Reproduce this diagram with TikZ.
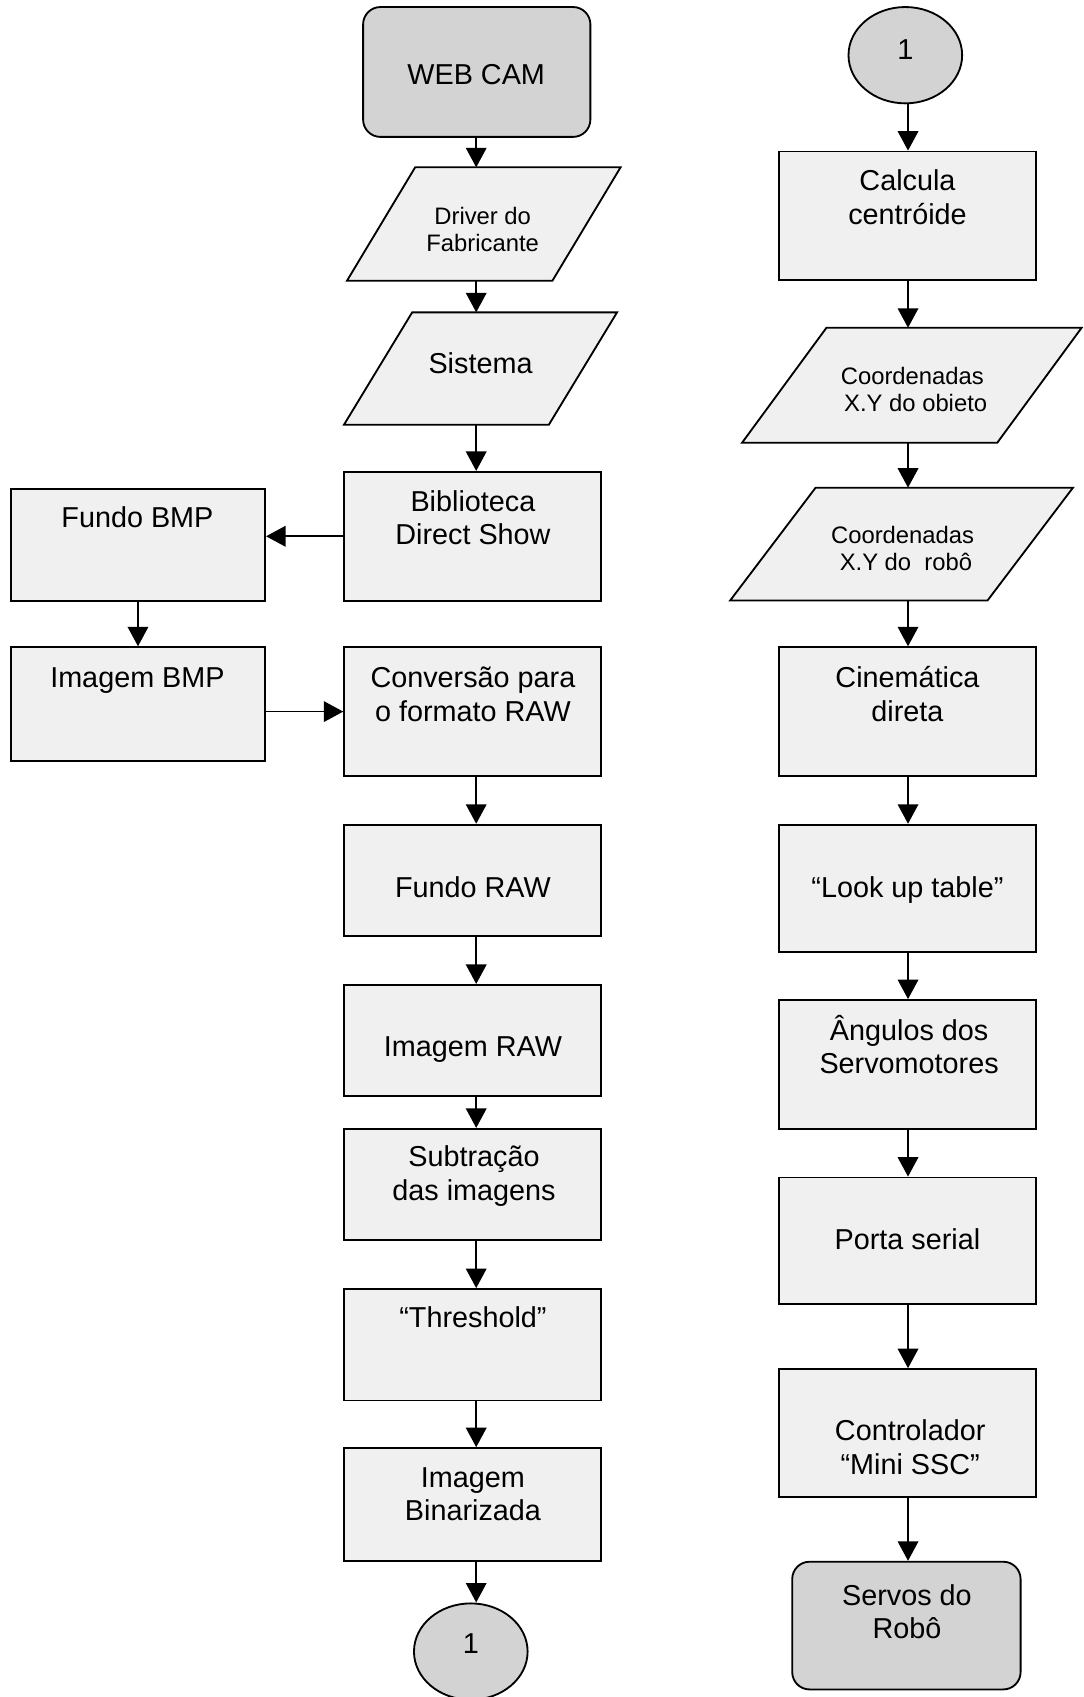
\documentclass[tikz,border=0pt]{standalone}
\usepackage{fontspec}
\setmainfont{Liberation Sans}
\usetikzlibrary{arrows.meta,calc,shapes.geometric}

\definecolor{lightfill}{RGB}{240,240,240}
\definecolor{darkfill}{RGB}{211,211,211}

\tikzset{
  boxline/.style={draw=black, line width=0.85pt},
  sz/.style 2 args={minimum width=#1*0.5pt, minimum height=#2*0.5pt, inner sep=0pt},
  procbox/.style={boxline, fill=lightfill, rectangle},
  termbox/.style={boxline, fill=darkfill, rectangle, rounded corners=8pt},
  connector/.style={boxline, fill=darkfill, ellipse},
  iobox/.style={rectangle, inner sep=0pt},
  big/.style={align=center, inner sep=0pt, font=\fontsize{13.3}{15.5}\selectfont},
  small/.style={align=center, inner sep=0pt, font=\fontsize{11}{12.5}\selectfont},
  arr/.style={draw=black, line width=0.8pt, -{Triangle[length=9pt,width=9.5pt]}},
}

% slanted input/output box drawn around an invisible rectangle node
\newcommand\slantbox[2]{%
  \draw[boxline, fill=lightfill]
    ($(#1.south west)+(-#2,0)$) -- ($(#1.south east)+(-#2,0)$) --
    ($(#1.north east)+(#2,0)$) -- ($(#1.north west)+(#2,0)$) -- cycle;}

\begin{document}
\begin{tikzpicture}[x=0.5pt,y=-0.5pt]
\fill[white] (0,0) rectangle (1001,1568);
\useasboundingbox (0,0) rectangle (1001,1568);
\coordinate (lx) at (440,0);
\coordinate (rx) at (839,0);

% ---------------- left column ----------------
\node[termbox, sz={210}{120}] (webcam) at (440.5,66.5) {};
\node[big] (webcamT) at (440,72) {\strut WEB CAM};

\node[iobox, sz={189}{104}] (driver) at (447,207) {};
\slantbox{driver}{31.5}
\node[small] (driverT) at (446,215) {\strut Driver do\\\strut Fabricante};

\node[iobox, sz={188.5}{103}] (sistema) at (444,340.5) {};
\slantbox{sistema}{31.5}
\node[big] (sistemaT) at (444,338.5) {\strut Sistema};

\node[procbox, sz={237}{119}] (biblio) at (436.5,495.5) {};
\node[big] (biblioT) at (437,481.5) {\strut Biblioteca\\\strut Direct Show};

\node[procbox, sz={235}{103}] (fundobmp) at (127.5,503.5) {};
\node[big] (fundobmpT) at (127,481) {\strut Fundo BMP};

\node[procbox, sz={235}{105}] (imagembmp) at (127.5,650.5) {};
\node[big] (imagembmpT) at (127,629) {\strut Imagem BMP};

\node[procbox, sz={237}{119}] (conversao) at (436.5,657.5) {};
\node[big] (conversaoT) at (437,644.5) {\strut Conversão para\\\strut o formato RAW};

\node[procbox, sz={237}{103}] (fundoraw) at (436.5,813.5) {};
\node[big] (fundorawT) at (437,823) {\strut Fundo RAW};

\node[procbox, sz={237}{103}] (imagemraw) at (436.5,961.5) {};
\node[big] (imagemrawT) at (437,970) {\strut Imagem RAW};

\node[procbox, sz={237}{103}] (subtracao) at (436.5,1094.5) {};
\node[big] (subtracaoT) at (438,1087.5) {\strut Subtração\\\strut das imagens};

\node[procbox, sz={237}{103}] (threshold) at (436.5,1242.5) {};
\node[big] (thresholdT) at (437,1220) {\strut “Threshold”};

\node[procbox, sz={237}{104}] (binarizada) at (436.5,1390) {};
\node[big] (binarizadaT) at (437,1383.5) {\strut Imagem\\\strut Binarizada};

\node[connector, sz={105}{89}] (conL) at (435,1526) {};
\node[big] (conLT) at (435,1522) {\strut 1};

% left column connectors
\draw[arr] (webcam.south -| lx) -- (driver.north -| lx);
\draw[arr] (driver.south -| lx) -- (sistema.north -| lx);
\draw[arr] (sistema.south -| lx) -- (biblio.north -| lx);
\draw[arr] (biblio.west) -- (biblio.west -| fundobmp.east);
\draw[arr] (fundobmp.south) -- (imagembmp.north);
\draw[arr] (imagembmp.east |- conversao.west) -- (conversao.west);
\draw[arr] (conversao.south -| lx) -- (fundoraw.north -| lx);
\draw[arr] (fundoraw.south -| lx) -- (imagemraw.north -| lx);
\draw[arr] (imagemraw.south -| lx) -- (subtracao.north -| lx);
\draw[arr] (subtracao.south -| lx) -- (threshold.north -| lx);
\draw[arr] (threshold.south -| lx) -- (binarizada.north -| lx);
\draw[arr] (binarizada.south -| lx) -- (conL.north -| lx);

% ---------------- right column ----------------
\node[connector, sz={105}{89}] (conR) at (836.5,51) {};
\node[big] (conRT) at (836.5,49) {\strut 1};

\node[procbox, sz={237}{119}] (calcula) at (838.5,199.5) {};
\node[big] (calculaT) at (838.5,185.5) {\strut Calcula\\\strut centróide};

\node[iobox, sz={235}{105.5}] (coordobj) at (842.5,356) {};
\slantbox{coordobj}{39}
\node[small] (coordobjT) at (843,362.6) {\strut Coordenadas\\\strut ~X.Y do obieto};

\node[iobox, sz={237}{103.5}] (coordrob) at (833,502.75) {};
\slantbox{coordrob}{39.5}
\node[small] (coordrobT) at (834,509.8) {\strut Coordenadas\\\strut ~X.Y do~ robô};

\node[procbox, sz={237}{119}] (cinematica) at (838.5,657.5) {};
\node[big] (cinematicaT) at (838.5,644.5) {\strut Cinemática\\\strut direta};

\node[procbox, sz={237}{118}] (lookup) at (838.5,821) {};
\node[big] (lookupT) at (838.5,823) {\strut “Look up table”};

\node[procbox, sz={237}{119}] (angulos) at (838.5,983.5) {};
\node[big] (angulosT) at (840,969.5) {\strut Ângulos dos\\\strut Servomotores};

\node[procbox, sz={237}{117}] (porta) at (838.5,1146.5) {};
\node[big] (portaT) at (838.5,1148) {\strut Porta serial};

\node[procbox, sz={237}{118}] (controlador) at (838.5,1324) {};
\node[big] (controladorT) at (841,1340.5) {\strut Controlador\\\strut “Mini SSC”};

\node[termbox, sz={211}{118}] (servos) at (837.5,1502) {};
\node[big] (servosT) at (838,1492.5) {\strut Servos do\\\strut Robô};

% right column connectors
\draw[arr] (conR.south -| rx) -- (calcula.north -| rx);
\draw[arr] (calcula.south -| rx) -- (coordobj.north -| rx);
\draw[arr] (coordobj.south -| rx) -- (coordrob.north -| rx);
\draw[arr] (coordrob.south -| rx) -- (cinematica.north -| rx);
\draw[arr] (cinematica.south -| rx) -- (lookup.north -| rx);
\draw[arr] (lookup.south -| rx) -- (angulos.north -| rx);
\draw[arr] (angulos.south -| rx) -- (porta.north -| rx);
\draw[arr] (porta.south -| rx) -- (controlador.north -| rx);
\draw[arr] (controlador.south -| rx) -- (servos.north -| rx);
\end{tikzpicture}
\end{document}
